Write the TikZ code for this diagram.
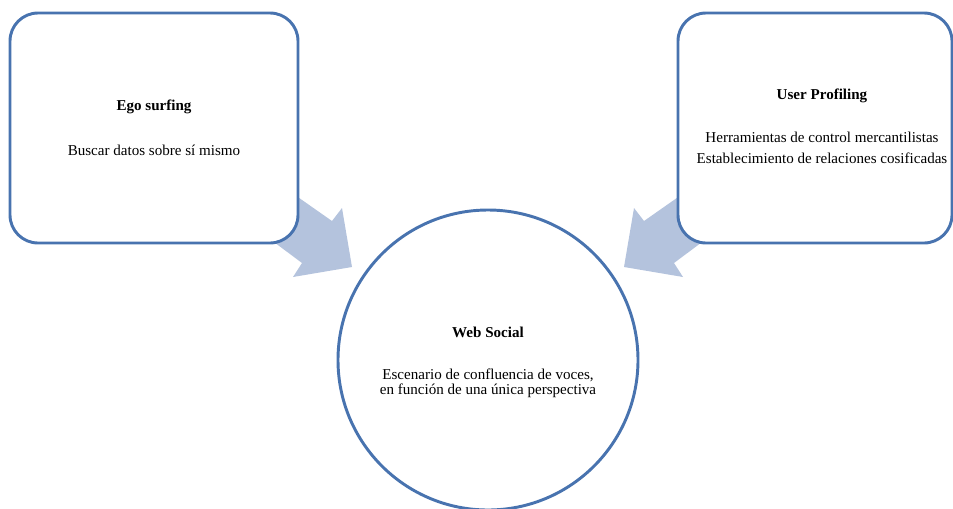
\documentclass[tikz,border=0pt]{standalone}
\usepackage{fontspec}
\setmainfont{Liberation Serif}
\definecolor{boxblue}{RGB}{72,115,175}
\definecolor{arrowfill}{RGB}{180,195,221}
\tikzset{
  roundbox/.style={draw=boxblue, line width=2.2pt, fill=white, rounded corners=21pt, minimum width=288*0.75pt, minimum height=230*0.75pt, inner sep=0pt},
  bigcircle/.style={draw=boxblue, line width=2.2pt, fill=white, circle, minimum size=300*0.75pt, inner sep=0pt},
  blockarrow/.style={fill=arrowfill, draw=none},
  txt/.style={font=\fontsize{11.3pt}{13pt}\selectfont, inner sep=0pt},
  ttl/.style={font=\fontsize{11.3pt}{13pt}\selectfont\bfseries, inner sep=0pt}
}
\begin{document}
\begin{tikzpicture}[x=0.75pt,y=-0.75pt]
\useasboundingbox (0,0) rectangle (953,508);
% block arrows (behind the boxes)
\fill[blockarrow] (250,163.5) -- (332,221) -- (342,208) -- (352,267) -- (293,277) -- (302,263) -- (235,213) -- cycle;
\fill[blockarrow] (726,163.5) -- (644,221) -- (634,208) -- (624,267) -- (683,277) -- (674,263) -- (741,213) -- cycle;
% boxes
\node[roundbox] (ego) at (154,128) {};
\node[roundbox, minimum width=274*0.75pt] (user) at (815,128) {};
\node[bigcircle] (web) at (488,360) {};
% texts
\node[ttl] (egot) at (154,107) {Ego surfing};
\node[txt] (egob) at (154,150) {Buscar datos sobre sí mismo};
\node[ttl] (usert) at (822,96) {User Profiling};
\node[txt] (userb1) at (822,137) {Herramientas de control mercantilistas};
\node[txt] (userb2) at (822,158) {Establecimiento de relaciones cosificadas};
\node[ttl] (webt) at (488,332) {Web Social};
\node[txt] (webb1) at (488,375) {Escenario de confluencia de voces,};
\node[txt] (webb2) at (488,391) {en función de una única perspectiva};
\end{tikzpicture}
\end{document}
